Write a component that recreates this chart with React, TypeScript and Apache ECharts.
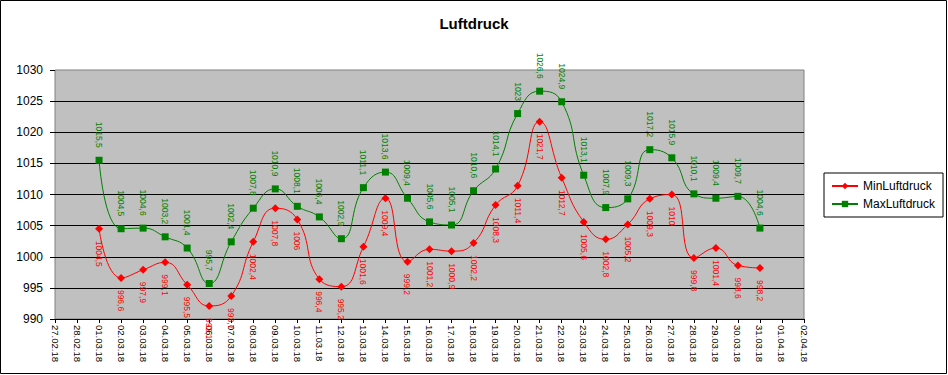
import React, { useEffect, useRef } from "react";
import * as echarts from "echarts";

const categories = [
  "27.02.18", "28.02.18",
  "01.03.18", "02.03.18", "03.03.18", "04.03.18", "05.03.18", "06.03.18", "07.03.18", "08.03.18",
  "09.03.18", "10.03.18", "11.03.18", "12.03.18", "13.03.18", "14.03.18", "15.03.18", "16.03.18",
  "17.03.18", "18.03.18", "19.03.18", "20.03.18", "21.03.18", "22.03.18", "23.03.18", "24.03.18",
  "25.03.18", "26.03.18", "27.03.18", "28.03.18", "29.03.18", "30.03.18", "31.03.18",
  "01.04.18", "02.04.18",
];

const minLuftdruck = [
  null, null,
  1004.5, 996.6, 997.9, 999.1, 995.5, 992.1, 993.7, 1002.4,
  1007.8, 1006, 996.4, 995.2, 1001.6, 1009.4, 999.2, 1001.2,
  1000.9, 1002.2, 1008.3, 1011.4, 1021.7, 1012.7, 1005.6, 1002.8,
  1005.2, 1009.3, 1010, 999.8, 1001.4, 998.6, 998.2,
  null, null,
];

const maxLuftdruck = [
  null, null,
  1015.5, 1004.5, 1004.6, 1003.2, 1001.4, 995.7, 1002.4, 1007.8,
  1010.9, 1008.1, 1006.4, 1002.9, 1011.1, 1013.6, 1009.4, 1005.6,
  1005.1, 1010.6, 1014.1, 1023, 1026.6, 1024.9, 1013.1, 1007.9,
  1009.3, 1017.2, 1015.9, 1010.1, 1009.4, 1009.7, 1004.6,
  null, null,
];

const FONT = "Arial, 'Liberation Sans', sans-serif";

const fmt = (p: any) => {
  const v = Array.isArray(p.value) ? p.value[1] : p.value;
  if (v == null) return "";
  return String(v).replace(".", ",");
};

export default function App() {
  const ref = useRef<HTMLDivElement>(null);

  useEffect(() => {
    document.body.style.margin = "0";
    if (!ref.current) return;
    const chart = echarts.init(ref.current, null, { renderer: "svg" });
    chart.setOption({
      animation: false,
      backgroundColor: "#ffffff",
      title: {
        text: "Luftdruck",
        left: "center",
        top: 11,
        textStyle: { fontFamily: FONT, fontSize: 15, fontWeight: "bold", color: "#000" },
      },
      graphic: [
        {
          type: "rect",
          shape: { x: 0.5, y: 0.5, width: 946, height: 373 },
          style: { fill: "none", stroke: "#000", lineWidth: 1 },
          silent: true,
        },
      ],
      legend: {
        orient: "vertical",
        left: 824,
        top: 173,
        borderColor: "#000",
        borderWidth: 1,
        padding: [7, 8, 7, 7],
        itemGap: 6,
        itemWidth: 26,
        itemHeight: 8,
        textStyle: { fontFamily: FONT, fontSize: 12, color: "#000" },
        data: ["MinLuftdruck", "MaxLuftdruck"],
      },
      grid: {
        left: 55,
        right: 144,
        top: 70,
        bottom: 56,
        show: true,
        backgroundColor: "#C0C0C0",
        borderColor: "#808080",
        borderWidth: 1,
      },
      xAxis: {
        type: "category",
        data: categories,
        boundaryGap: false,
        axisLine: { show: true, lineStyle: { color: "#000", width: 1 } },
        axisTick: { show: true, length: 4, lineStyle: { color: "#000" }, interval: 0 },
        axisLabel: {
          interval: 0,
          rotate: -90,
          margin: 6,
          fontFamily: FONT,
          fontSize: 9.5,
          color: "#000",
        },
        splitLine: { show: false },
      },
      yAxis: {
        type: "value",
        min: 990,
        max: 1030,
        interval: 5,
        axisLine: { show: false },
        axisTick: { show: true, length: 5, lineStyle: { color: "#000" } },
        axisLabel: {
          margin: 12,
          fontFamily: FONT,
          fontSize: 12,
          color: "#000",
          formatter: (v: number) => String(v),
        },
        splitLine: { show: true, showMinLine: false, showMaxLine: false, lineStyle: { color: "#000", width: 1 } },
      },
      series: [
        {
          name: "MinLuftdruck",
          type: "line",
          data: minLuftdruck,
          smooth: 0.5,
          symbol: "diamond",
          symbolSize: 8,
          lineStyle: { color: "#FF0000", width: 1 },
          itemStyle: { color: "#FF0000" },
          label: {
            show: true,
            position: "bottom",
            distance: 8,
            rotate: -90,
            align: "left",
            verticalAlign: "middle",
            fontFamily: FONT,
            fontSize: 8.5,
            color: "#FF0000",
            formatter: fmt,
          },
        },
        {
          name: "MaxLuftdruck",
          type: "line",
          data: maxLuftdruck,
          smooth: 0.5,
          symbol: "rect",
          symbolSize: 7,
          lineStyle: { color: "#008000", width: 1 },
          itemStyle: { color: "#008000" },
          label: {
            show: true,
            position: "top",
            distance: 9,
            rotate: -90,
            align: "right",
            verticalAlign: "middle",
            fontFamily: FONT,
            fontSize: 8.5,
            color: "#008000",
            formatter: fmt,
          },
        },
      ],
    });
    return () => chart.dispose();
  }, []);

  return <div ref={ref} style={{ width: 948, height: 375 }} />;
}
